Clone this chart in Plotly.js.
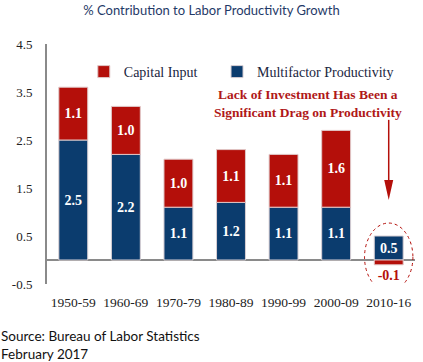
<!DOCTYPE html>
<html>
<head>
<meta charset="utf-8">
<script src="https://cdn.plot.ly/plotly-3.0.1.min.js"></script>
<style>html,body{margin:0;padding:0;background:#fff;}#chart{width:423px;height:362px;}</style>
</head>
<body>
<div id="chart"></div>
<script>
const categories = ['1950-59','1960-69','1970-79','1980-89','1990-99','2000-09','2010-16'];
const multifactor = [2.5, 2.2, 1.1, 1.2, 1.1, 1.1, 0.5];
const capital = [1.1, 1.0, 1.0, 1.1, 1.1, 1.6, -0.1];
const yTicks = [-0.5, 0.5, 1.5, 2.5, 3.5, 4.5];

const RED = '#B40F0A';
const BLUE = '#0B3C6E';
const serif = 'Liberation Serif, Times New Roman, serif';
const fmt = v => v.toFixed(1);

const mfTrace = {
  type: 'bar', name: 'Multifactor Productivity', x: categories, y: multifactor,
  legend: 'legend2',
  marker: {color: BLUE, line: {color: '#d8cfd4', width: 1}},
  text: multifactor.map(fmt), textposition: 'inside', insidetextanchor: 'middle',
  textfont: {family: serif, size: 14, color: '#ffffff', weight: 'bold'},
  hoverinfo: 'none', cliponaxis: false
};
const capTrace = {
  type: 'bar', name: 'Capital Input', x: categories, y: capital,
  legend: 'legend',
  marker: {color: RED, line: {color: '#e0c8c8', width: 1}},
  text: capital.map(fmt),
  textposition: capital.map(v => v < 0 ? 'outside' : 'inside'),
  insidetextanchor: 'middle',
  textfont: {family: serif, size: 14, color: capital.map(v => v < 0 ? RED : '#ffffff'), weight: 'bold'},
  hoverinfo: 'none', cliponaxis: false
};

const last = categories.length - 1;
const legendFont = {family: serif, size: 14, color: '#1a2540'};

const layout = {
  width: 423, height: 362,
  margin: {l: 47, r: 8, t: 44, b: 78},
  paper_bgcolor: '#ffffff', plot_bgcolor: '#ffffff',
  barmode: 'relative', bargap: 0.45,
  showlegend: true,
  legend: {orientation: 'h', x: 0.1, y: 0.95, xanchor: 'left', yanchor: 'top',
    font: legendFont, itemwidth: 30, bgcolor: 'rgba(0,0,0,0)'},
  legend2: {orientation: 'h', x: 0.462, y: 0.95, xanchor: 'left', yanchor: 'top',
    font: legendFont, itemwidth: 30, bgcolor: 'rgba(0,0,0,0)'},
  uniformtext: {minsize: 14, mode: 'show'},
  title: {text: '% Contribution to Labor Productivity Growth',
    font: {family: 'Lato, sans-serif', size: 13, color: '#1F3A68'},
    x: 0.5, xanchor: 'center', y: 0.97, yanchor: 'middle'},
  xaxis: {type: 'category', range: [-0.5, 6.5], showline: false, showgrid: false,
    ticks: 'outside', ticklen: 6, tickcolor: 'rgba(0,0,0,0)',
    tickfont: {family: serif, size: 13.5, color: '#222'}, fixedrange: true},
  yaxis: {range: [-0.5, 4.5], tickvals: yTicks, ticktext: yTicks.map(fmt),
    showgrid: false, showline: true, linecolor: '#8a8a8a', linewidth: 2,
    zeroline: true, zerolinecolor: '#8a8a8a', zerolinewidth: 2,
    ticks: 'outside', ticklen: 10, tickcolor: 'rgba(0,0,0,0)',
    tickfont: {family: serif, size: 13, color: '#222'}, fixedrange: true},
  shapes: [
    {type: 'circle', xref: 'x', yref: 'y', x0: last - 0.46, x1: last + 0.46,
     y0: capital[last] - 0.55, y1: multifactor[last] + 0.27,
     line: {color: RED, width: 1, dash: 'dot'}},
    {type: 'line', xref: 'x', yref: 'y', x0: last, x1: last, y0: 2.92, y1: 1.5,
     line: {color: RED, width: 1.5}},
    {type: 'path', xref: 'x', yref: 'y', xsizemode: 'pixel', ysizemode: 'pixel',
     xanchor: last, yanchor: 1.25, path: 'M-4.5,20 L4.5,20 L0,0 Z',
     fillcolor: RED, line: {width: 0}}
  ],
  annotations: [
    {xref: 'paper', yref: 'paper', x: 0.709, y: (284 - 103.5) / 240, xanchor: 'center', yanchor: 'middle',
     text: '<b>Lack of Investment Has Been a<br>Significant Drag on Productivity</b>',
     showarrow: false, align: 'center',
     font: {family: serif, size: 13.5, color: '#B01818'}},
    {xref: 'paper', yref: 'paper', x: -47 / 368, y: (284 - 345) / 240, xanchor: 'left', yanchor: 'middle',
     text: 'Source: Bureau of Labor Statistics<br>February 2017', showarrow: false, align: 'left',
     borderpad: 0, font: {family: 'Lato, sans-serif', size: 13.5, color: '#111'}}
  ]
};

Plotly.newPlot('chart', [mfTrace, capTrace], layout, {displayModeBar: false, staticPlot: true});
</script>
</body>
</html>
